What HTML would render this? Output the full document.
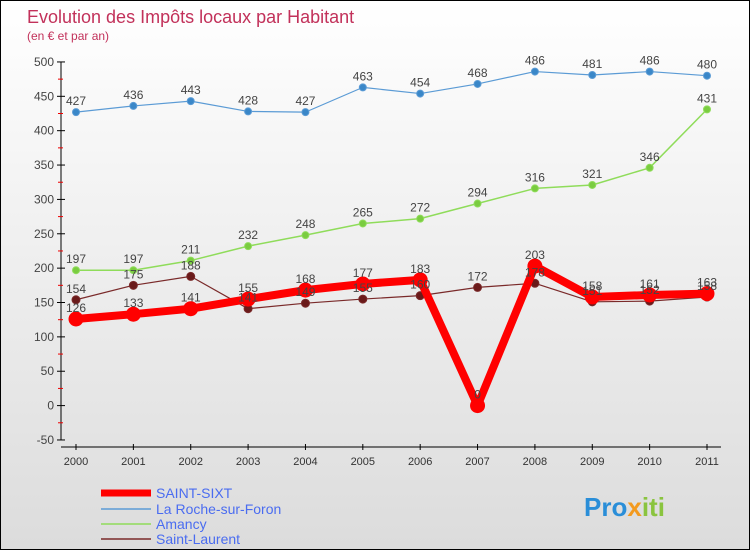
<!DOCTYPE html>
<html><head><meta charset="utf-8"><style>
body{margin:0;width:750px;height:550px;overflow:hidden;font-family:"Liberation Sans",sans-serif}
#c{position:absolute;left:0;top:0;width:748px;height:548px;border:1px solid #000;background:linear-gradient(#fff,#dcdcdc)}
</style></head><body>
<div id="c">
<svg id="s" width="748" height="548" style="position:absolute;left:0;top:0">
<text x="26" y="22" font-size="18" fill="#c2315a">Evolution des Impôts locaux par Habitant</text>
<text x="26" y="39" font-size="12" fill="#c2315a">(en € et par an)</text>
<g id="ax"></g><g id="ser"></g><g id="lbl"></g>
<g>
<line x1="100" y1="492" x2="150" y2="492" stroke="#f00" stroke-width="7"/>
<text x="155" y="497" font-size="14" fill="#4a6cf0">SAINT-SIXT</text>
<line x1="100" y1="508" x2="150" y2="508" stroke="#5b9bd5" stroke-width="1.5"/>
<text x="155" y="513" font-size="14" fill="#4a6cf0">La Roche-sur-Foron</text>
<line x1="100" y1="523" x2="150" y2="523" stroke="#8fdc5a" stroke-width="1.5"/>
<text x="155" y="528" font-size="14" fill="#4a6cf0">Amancy</text>
<line x1="100" y1="538" x2="150" y2="538" stroke="#7a2a2a" stroke-width="1.5"/>
<text x="155" y="543" font-size="14" fill="#4a6cf0">Saint-Laurent</text>
</g>
<text x="583" y="515" font-size="26" font-weight="bold" fill="#2a8ed8">Pro<tspan fill="#f39a1e">x</tspan><tspan fill="#8ac43f">iti</tspan></text>
</svg></div>
<script>
const years=[2000,2001,2002,2003,2004,2005,2006,2007,2008,2009,2010,2011];
const saintSixt=[126,133,141,155,168,177,183,0,203,158,161,163];
const laRoche=[427,436,443,428,427,463,454,468,486,481,486,480];
const amancy=[197,197,211,232,248,265,272,294,316,321,346,431];
const saintLaurent=[154,175,188,141,149,155,160,172,178,151,152,158];
const yTicks=[-50,0,50,100,150,200,250,300,350,400,450,500];
const NS="http://www.w3.org/2000/svg";
const X=i=>75+i*(706-75)/(years.length-1);
const Y=v=>404.6-v*0.6873;
function mk(p,t,a){const e=document.createElementNS(NS,t);for(const k in a)e.setAttribute(k,a[k]);p.appendChild(e);return e;}
const ax=document.getElementById('ax'),ser=document.getElementById('ser'),lbl=document.getElementById('lbl');
const yl=mk(ax,'line',{x1:60,y1:Y(500),x2:60,y2:Y(-50),stroke:'#000'});


const xl=mk(ax,'line',{x1:60,y1:446,x2:720,y2:446,stroke:'#000'});


yTicks.forEach(v=>{mk(ax,'line',{x1:56,y1:Y(v),x2:64,y2:Y(v),stroke:'#000'});
if(v<500)mk(ax,'line',{x1:57,y1:Y(v+25),x2:62,y2:Y(v+25),stroke:'#e00'});
const t=mk(ax,'text',{x:53,y:Y(v)+4,'font-size':12,fill:'#444','text-anchor':'end'});t.textContent=v;

});
years.forEach((y,i)=>{mk(ax,'line',{x1:X(i),y1:443,x2:X(i),y2:449,stroke:'#000'});
const t=mk(ax,'text',{x:X(i),y:464,'font-size':11,fill:'#333','text-anchor':'middle'});t.textContent=y;

});
function series(d,col,w,r,name,dot){
const l=mk(ser,'polyline',{points:d.map((v,i)=>X(i)+','+Y(v)).join(' '),fill:'none',stroke:col,'stroke-width':w,'stroke-linejoin':'round'});


d.forEach((v,i)=>{const c=mk(ser,'circle',{cx:X(i),cy:Y(v),r:r,fill:dot,stroke:col});


const t=mk(lbl,'text',{x:X(i),y:Y(v)-7,'font-size':12,fill:'#444','text-anchor':'middle'});t.textContent=v;

});}
series(laRoche,'#5b9bd5',1.2,3.5,'la-roche','#3a87c8');
series(amancy,'#8fdc5a',1.5,3.5,'amancy','#7acc40');
series(saintLaurent,'#7a2a2a',1.2,4,'saint-laurent','#6a1a1a');
series(saintSixt,'#f00',8,7,'saint-sixt','#f00');
</script></body></html>
